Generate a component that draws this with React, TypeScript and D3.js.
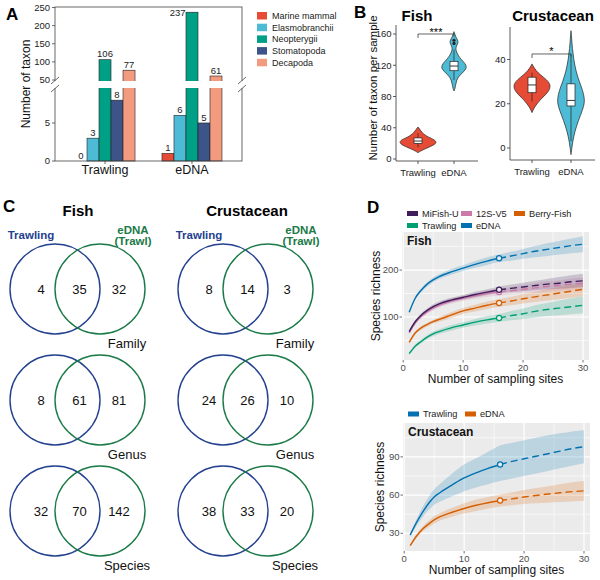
import * as d3 from "d3";

const FONT = "'Liberation Sans', Arial, Helvetica, sans-serif";

// ---------- Panel A data ----------
const groups = ["Trawling", "eDNA"];
const taxa = ["Marine mammal", "Elasmobranchii", "Neopterygii", "Stomatopoda", "Decapoda"];
const taxaColors = ["#E64B35", "#4DBBD5", "#00A087", "#3C5488", "#F39B7F"];
const trawlCounts = [0, 3, 106, 8, 77];
const ednaCounts = [1, 6, 237, 5, 61];
const upperTicks = [50, 100, 150, 200, 250];
const lowerTicks = [0, 5];

// ---------- Panel B data (violin outlines: [value, relative half width]) ----------
const fishTrawlViolin = [[8, 0], [10, 0.12], [13, 0.38], [16, 0.68], [19, 0.93], [22, 1], [25, 0.86], [28, 0.56], [31, 0.36], [34, 0.22], [37, 0.12], [40, 0.04], [41, 0]];
const fishEdnaViolin = [[87, 0], [90, 0.08], [95, 0.13], [100, 0.2], [105, 0.33], [110, 0.66], [115, 0.95], [118, 1], [122, 0.9], [127, 0.6], [132, 0.35], [137, 0.2], [141, 0.13], [145, 0.2], [149, 0.34], [152, 0.3], [156, 0.15], [160, 0.06], [163, 0]];
const crustTrawlViolin = [[16, 0], [18, 0.1], [20, 0.27], [22, 0.47], [24, 0.72], [26, 0.93], [28, 1], [30, 0.9], [32, 0.62], [34, 0.32], [36, 0.13], [38, 0]];
const crustEdnaViolin = [[-3, 0], [0, 0.06], [5, 0.18], [10, 0.4], [15, 0.7], [19, 0.95], [22, 1], [26, 0.86], [30, 0.6], [35, 0.35], [40, 0.2], [45, 0.1], [50, 0.04], [53, 0]];
// [lower whisker, q1, median, q3, upper whisker]
const fishTrawlBox = [15, 20, 23, 27, 33];
const fishEdnaBox = [101, 113, 119, 125, 140];
const fishEdnaOutliers = [148, 152];
const crustTrawlBox = [21, 25, 28.5, 32, 34];
const crustEdnaBox = [3, 19, 21.5, 29, 42];
const fishTicks = [0, 40, 80, 120, 160];
const crustTicks = [0, 20, 40];

// ---------- Panel C data ----------
const vennLevels = ["Family", "Genus", "Species"];
const fishVenn = [[4, 35, 32], [8, 61, 81], [32, 70, 142]];
const crustVenn = [[8, 14, 3], [24, 26, 10], [38, 33, 20]];

// ---------- Panel D data ----------
const siteX = [1, 2, 3, 4, 5, 6, 8, 10, 12, 14, 16, 18, 20, 22, 24, 26, 28, 30];
const observedSites = 16;
const fishEdnaMean = [110, 140, 157, 170, 179, 186, 196, 204, 212, 219, 225, 230, 235, 240, 244, 248, 252, 255];
const fishEdnaLo = [108, 137, 153, 165, 174, 181, 190, 198, 205, 211, 217, 220, 224, 227, 230, 233, 236, 238];
const fishEdnaHi = [112, 143, 161, 174, 184, 191, 202, 210, 219, 227, 233, 239, 245, 251, 257, 262, 267, 272];
const mifishMean = [69, 90, 104, 114, 122, 128, 136, 142, 148, 153, 158, 161, 164, 167, 170, 172, 175, 177];
const mifishLo = [67, 87, 100, 110, 117, 123, 131, 137, 142, 147, 151, 153, 155, 157, 159, 160, 162, 164];
const mifishHi = [71, 93, 108, 118, 127, 133, 141, 147, 154, 159, 165, 169, 173, 177, 181, 185, 189, 192];
const v5Mean = [66, 87, 101, 111, 119, 125, 134, 140, 145, 150, 153, 156, 159, 162, 165, 167, 170, 172];
const v5Lo = [64, 84, 97, 107, 114, 120, 128, 134, 139, 143, 146, 148, 150, 152, 154, 156, 158, 160];
const v5Hi = [68, 90, 105, 115, 124, 130, 140, 146, 151, 157, 160, 164, 168, 172, 176, 178, 182, 184];
const berryMean = [46, 66, 77, 84, 90, 95, 104, 113, 119, 125, 130, 134, 139, 143, 147, 151, 155, 159];
const berryLo = [44, 63, 73, 80, 86, 90, 98, 107, 112, 117, 122, 125, 129, 132, 135, 138, 141, 145];
const berryHi = [48, 69, 81, 88, 94, 100, 110, 119, 126, 133, 138, 143, 149, 154, 159, 164, 168, 173];
const fishTrawlMean = [22, 38, 48, 57, 64, 69, 77, 83, 89, 94, 98, 103, 107, 112, 116, 119, 122, 125];
const fishTrawlLo = [20, 35, 44, 53, 59, 64, 71, 77, 82, 86, 90, 93, 96, 99, 102, 104, 106, 108];
const fishTrawlHi = [24, 41, 52, 61, 69, 74, 83, 89, 96, 102, 106, 113, 118, 125, 130, 135, 140, 144];
const crustTrawlMean = [28.7, 38, 46, 53, 58.5, 62, 68, 73.5, 77.5, 81, 84, 86.5, 88.5, 90.5, 92.5, 94.5, 96.5, 98];
const crustTrawlLo = [27.5, 35.5, 42, 48, 52.5, 55, 59, 63, 66, 68.5, 71, 73, 75, 77, 79, 81, 83, 85];
const crustTrawlHi = [30, 40.5, 50, 58, 64.5, 69, 77, 84, 89, 94, 99, 101, 103, 105, 107, 108.5, 110, 111];
const crustEdnaMean = [20.3, 27.5, 33, 37, 40.5, 43, 46.5, 49.5, 52, 54, 55.7, 57, 58.5, 59.7, 60.8, 61.8, 62.7, 63.3];
const crustEdnaLo = [19.8, 26, 31, 34.5, 37.5, 40, 43, 45.5, 47.5, 49.5, 51, 52, 53, 53.5, 54, 54.5, 55, 55.5];
const crustEdnaHi = [20.8, 29, 35, 39.5, 43.5, 46, 50, 53.5, 56.5, 58.5, 60.5, 62, 64, 65.5, 67, 68.5, 70, 71];

const BLUE = "#24418F";
const GREEN = "#1B7A47";

function PanelA() {
  const x0 = d3.scaleBand<string>().domain(groups).range([55, 242]).paddingInner(0.31).paddingOuter(0.23);
  const x1 = d3.scaleBand<string>().domain(taxa).range([0, x0.bandwidth()]);
  const yLow = d3.scaleLinear().domain([0, 9.6]).range([161, 88]);
  const yHigh = d3.scaleLinear().domain([50, 250]).range([80, 7.5]);
  const yOf = (v: number) => (v <= 9.6 ? yLow(v) : yHigh(v));
  const counts: Record<string, number[]> = { Trawling: trawlCounts, eDNA: ednaCounts };

  return (
    <g>
      <text x={6} y={20} fontSize={17} fontWeight="bold">A</text>
      {groups.map((g) =>
        taxa.map((t, i) => {
          const v = counts[g][i];
          const bx = (x0(g) as number) + (x1(t) as number);
          const top = yOf(v);
          return v > 0 ? (
            <rect key={g + t} x={bx} y={top} width={x1.bandwidth()} height={161 - top}
              fill={taxaColors[i]} stroke="#222" strokeWidth={0.6} />
          ) : null;
        })
      )}
      <rect x={55} y={7} width={187} height={154} fill="none" stroke="#444" strokeWidth={0.8} />
      <rect x={48} y={81} width={202} height={7} fill="white" />
      {[0, 187].map((dx) => (
        <g key={dx} stroke="#444" strokeWidth={0.8}>
          <line x1={51 + dx} y1={84} x2={59 + dx} y2={77} />
          <line x1={51 + dx} y1={92} x2={59 + dx} y2={85} />
        </g>
      ))}
      {upperTicks.map((t) => (
        <g key={"u" + t}>
          <line x1={52} x2={55} y1={yHigh(t)} y2={yHigh(t)} stroke="#444" strokeWidth={0.8} />
          <text x={50} y={yHigh(t) + 3.3} fontSize={9.5} textAnchor="end" fill="#222">{t}</text>
        </g>
      ))}
      {lowerTicks.map((t) => (
        <g key={"l" + t}>
          <line x1={52} x2={55} y1={yLow(t)} y2={yLow(t)} stroke="#444" strokeWidth={0.8} />
          <text x={50} y={yLow(t) + 3.3} fontSize={9.5} textAnchor="end" fill="#222">{t}</text>
        </g>
      ))}
      {groups.map((g) =>
        taxa.map((t, i) => {
          const v = counts[g][i];
          const bx = (x0(g) as number) + (x1(t) as number);
          const top = yOf(v);
          if (top < 16) {
            return <text key={"v" + g + t} x={bx - 0.5} y={top + 4} fontSize={9.5} textAnchor="end" fill="#222">{v}</text>;
          }
          return (
            <text key={"v" + g + t} x={bx + x1.bandwidth() / 2} y={top - 2.3} fontSize={9.5} textAnchor="middle" fill="#222">{v}</text>
          );
        })
      )}
      {groups.map((g) => (
        <g key={"x" + g}>
          <line x1={(x0(g) as number) + x0.bandwidth() / 2} x2={(x0(g) as number) + x0.bandwidth() / 2} y1={161} y2={164} stroke="#444" strokeWidth={0.8} />
          <text x={(x0(g) as number) + x0.bandwidth() / 2} y={173.5} fontSize={12.5} textAnchor="middle" fill="#111">{g}</text>
        </g>
      ))}
      <text transform="translate(30,84) rotate(-90)" fontSize={12} textAnchor="middle" fill="#111">Number of taxon</text>
      {taxa.map((t, i) => (
        <g key={"lg" + t}>
          <rect x={257} y={12 + i * 11.7} width={10} height={7.5} fill={taxaColors[i]} />
          <text x={272} y={19 + i * 11.7} fontSize={9} fill="#222">{t}</text>
        </g>
      ))}
    </g>
  );
}

type ViolinSpec = { cx: number; shape: number[][]; maxHalf: number; fill: string; box: number[]; outliers?: number[] };

function ViolinPlot({ axisX, axisY, axisTop, axisRight, y, ticks, violins, labels, bracketY, stars, title, titleX }: any) {
  const area = d3.area<number[]>()
    .curve(d3.curveBasis);
  return (
    <g>
      <text x={titleX} y={21} fontSize={15} fontWeight="bold" textAnchor="middle">{title}</text>
      {violins.map((v: ViolinSpec, i: number) => {
        area.y((d) => y(d[0])).x0((d) => v.cx - d[1] * v.maxHalf).x1((d) => v.cx + d[1] * v.maxHalf);
        const [lw, q1, md, q3, hw] = v.box;
        return (
          <g key={i}>
            <path d={area(v.shape) as string} fill={v.fill} stroke="#222" strokeWidth={0.7} />
            <line x1={v.cx} x2={v.cx} y1={y(lw)} y2={y(hw)} stroke="#222" strokeWidth={0.7} />
            <rect x={v.cx - 4} width={8} y={y(q3)} height={y(q1) - y(q3)} fill="white" stroke="#222" strokeWidth={0.7} />
            <line x1={v.cx - 4} x2={v.cx + 4} y1={y(md)} y2={y(md)} stroke="#222" strokeWidth={0.9} />
            {(v.outliers || []).map((o) => (
              <circle key={o} cx={v.cx} cy={y(o)} r={1.6} fill="#222" />
            ))}
          </g>
        );
      })}
      <path d={`M${violins[0].cx},${y(bracketY) + 4}V${y(bracketY)}H${violins[1].cx}V${y(bracketY) + 2.5}`} fill="none" stroke="#222" strokeWidth={0.7} />
      <text x={(violins[0].cx + violins[1].cx) / 2} y={y(bracketY) + 1.5} fontSize={11} textAnchor="middle">{stars}</text>
      <line x1={axisX} x2={axisX} y1={axisTop} y2={axisY} stroke="#333" strokeWidth={0.8} />
      <line x1={axisX} x2={axisRight} y1={axisY} y2={axisY} stroke="#333" strokeWidth={0.8} />
      {ticks.map((t: number) => (
        <g key={t}>
          <line x1={axisX - 3} x2={axisX} y1={y(t)} y2={y(t)} stroke="#333" strokeWidth={0.8} />
          <text x={axisX - 4.5} y={y(t) + 3.3} fontSize={9.5} textAnchor="end" fill="#222">{t}</text>
        </g>
      ))}
      {violins.map((v: ViolinSpec, i: number) => (
        <g key={"xl" + i}>
          <line x1={v.cx} x2={v.cx} y1={axisY} y2={axisY + 3} stroke="#333" strokeWidth={0.8} />
          <text x={v.cx} y={axisY + 15} fontSize={9.5} textAnchor="middle" fill="#222">{labels[i]}</text>
        </g>
      ))}
    </g>
  );
}

function PanelB() {
  const yFish = d3.scaleLinear().domain([0, 160]).range([159, 34]);
  const yCrust = d3.scaleLinear().domain([0, 40]).range([148, 59.5]);
  return (
    <g>
      <text x={354} y={18} fontSize={17} fontWeight="bold">B</text>
      <text transform="translate(377,88) rotate(-90)" fontSize={11.5} textAnchor="middle" fill="#111">Number of taxon per sample</text>
      <ViolinPlot axisX={396} axisY={161} axisTop={25} axisRight={478} y={yFish} ticks={fishTicks}
        title="Fish" titleX={417} labels={groups} bracketY={160} stars="***"
        violins={[
          { cx: 418, shape: fishTrawlViolin, maxHalf: 18.5, fill: "#E64B35", box: fishTrawlBox },
          { cx: 454, shape: fishEdnaViolin, maxHalf: 12.5, fill: "#4DBBD5", box: fishEdnaBox, outliers: fishEdnaOutliers },
        ]} />
      <ViolinPlot axisX={510} axisY={160} axisTop={27} axisRight={595} y={yCrust} ticks={crustTicks}
        title="Crustacean" titleX={553} labels={groups} bracketY={42.5} stars="*"
        violins={[
          { cx: 532, shape: crustTrawlViolin, maxHalf: 18.5, fill: "#E64B35", box: crustTrawlBox },
          { cx: 571, shape: crustEdnaViolin, maxHalf: 13.7, fill: "#4DBBD5", box: crustEdnaBox },
        ]} />
    </g>
  );
}

function VennColumn({ title, titleX, blueX, rows }: { title: string; titleX: number; blueX: number; rows: number[][] }) {
  const greenX = blueX + 45;
  const rowY = d3.scalePoint<string>().domain(vennLevels).range([289, 511]);
  return (
    <g>
      <text x={titleX} y={216} fontSize={15} fontWeight="bold" textAnchor="middle">{title}</text>
      <text x={blueX - 24} y={239} fontSize={11.5} fontWeight="bold" fill={BLUE} textAnchor="middle">Trawling</text>
      <text x={greenX + 33} y={234} fontSize={11.5} fontWeight="bold" fill={GREEN} textAnchor="middle">eDNA</text>
      <text x={greenX + 33} y={245} fontSize={11.5} fontWeight="bold" fill={GREEN} textAnchor="middle">(Trawl)</text>
      {vennLevels.map((lvl, i) => {
        const cy = rowY(lvl) as number;
        const [a, b, c] = rows[i];
        return (
          <g key={lvl}>
            <circle cx={blueX} cy={cy} r={45} fill="none" stroke={BLUE} strokeWidth={1.4} />
            <circle cx={greenX} cy={cy} r={45} fill="none" stroke={GREEN} strokeWidth={1.4} />
            <text x={blueX - 14} y={cy + 4.7} fontSize={13} textAnchor="middle" fill="#111">{a}</text>
            <text x={(blueX + greenX) / 2 + 2} y={cy + 4.7} fontSize={13} textAnchor="middle" fill="#111">{b}</text>
            <text x={greenX + 19} y={cy + 4.7} fontSize={13} textAnchor="middle" fill="#111">{c}</text>
            <text x={greenX + 27} y={cy + 58.5} fontSize={13} textAnchor="middle" fill="#111">{lvl}</text>
          </g>
        );
      })}
    </g>
  );
}

function PanelC() {
  return (
    <g>
      <text x={3} y={212} fontSize={17} fontWeight="bold">C</text>
      <VennColumn title="Fish" titleX={78} blueX={55} rows={fishVenn} />
      <VennColumn title="Crustacean" titleX={247} blueX={223} rows={crustVenn} />
    </g>
  );
}

type Series = { name: string; color: string; mean: number[]; lo: number[]; hi: number[] };

function Richness({ x0, x1, y0, y1, yDomain, yMajor, yMinor, series, label, yTitleX }: any) {
  const x = d3.scaleLinear().domain([-0.2, 31]).range([x0, x1]);
  const y = d3.scaleLinear().domain(yDomain).range([y1, y0]);
  const xMajor = [0, 10, 20, 30];
  const xMinor = [5, 15, 25];
  const pts = (s: Series) => siteX.map((sx, i) => ({ sx, m: s.mean[i], lo: s.lo[i], hi: s.hi[i] }));
  const band = d3.area<any>().x((d) => x(d.sx)).y0((d) => y(d.lo)).y1((d) => y(d.hi)).curve(d3.curveMonotoneX);
  const line = d3.line<any>().x((d) => x(d.sx)).y((d) => y(d.m)).curve(d3.curveMonotoneX);
  return (
    <g>
      <rect x={x0} y={y0} width={x1 - x0} height={y1 - y0} fill="#EBEBEB" />
      {yMinor.map((t: number) => <line key={"ym" + t} x1={x0} x2={x1} y1={y(t)} y2={y(t)} stroke="white" strokeWidth={0.6} />)}
      {xMinor.map((t) => <line key={"xm" + t} y1={y0} y2={y1} x1={x(t)} x2={x(t)} stroke="white" strokeWidth={0.6} />)}
      {yMajor.map((t: number) => <line key={"yM" + t} x1={x0} x2={x1} y1={y(t)} y2={y(t)} stroke="white" strokeWidth={1.2} />)}
      {xMajor.map((t) => <line key={"xM" + t} y1={y0} y2={y1} x1={x(t)} x2={x(t)} stroke="white" strokeWidth={1.2} />)}
      {series.map((s: Series) => (
        <path key={"b" + s.name} d={band(pts(s)) as string} fill={s.color} opacity={0.2} />
      ))}
      {series.map((s: Series) => {
        const p = pts(s);
        const obs = p.filter((d) => d.sx <= observedSites);
        const ext = p.filter((d) => d.sx >= observedSites);
        const mk = p.find((d) => d.sx === observedSites)!;
        return (
          <g key={"l" + s.name}>
            <path d={line(obs) as string} fill="none" stroke={s.color} strokeWidth={1.4} />
            <path d={line(ext) as string} fill="none" stroke={s.color} strokeWidth={1.4} strokeDasharray="7,4" />
            <circle cx={x(mk.sx)} cy={y(mk.m)} r={2.6} fill="#EBEBEB" stroke={s.color} strokeWidth={1.2} />
          </g>
        );
      })}
      <text x={x0 + 5} y={y0 + 13} fontSize={12} fontWeight="bold" fill="#111">{label}</text>
      {yMajor.map((t: number) => (
        <g key={"yt" + t}>
          <line x1={x0 - 2.5} x2={x0} y1={y(t)} y2={y(t)} stroke="#333" strokeWidth={0.7} />
          <text x={x0 - 3.5} y={y(t) + 3.2} fontSize={9.5} textAnchor="end" fill="#4D4D4D">{t}</text>
        </g>
      ))}
      {xMajor.map((t) => (
        <g key={"xt" + t}>
          <line x1={x(t)} x2={x(t)} y1={y1} y2={y1 + 2.5} stroke="#333" strokeWidth={0.7} />
          <text x={x(t)} y={y1 + 11} fontSize={9.5} textAnchor="middle" fill="#4D4D4D">{t}</text>
        </g>
      ))}
      <text x={(x0 + x1) / 2} y={y1 + 23} fontSize={12} textAnchor="middle" fill="#111">Number of sampling sites</text>
      <text transform={`translate(${yTitleX},${(y0 + y1) / 2}) rotate(-90)`} fontSize={12} textAnchor="middle" fill="#111">Species richness</text>
    </g>
  );
}

function Legend({ items, x, y, colW, perRow }: { items: Series[]; x: number; y: number; colW: number[]; perRow: number }) {
  return (
    <g>
      {items.map((s, i) => {
        const r = Math.floor(i / perRow);
        const c = i % perRow;
        const lx = x + colW[c];
        const ly = y + r * 12;
        return (
          <g key={s.name}>
            <rect x={lx} y={ly - 2.5} width={11} height={5} fill={s.color} />
            <text x={lx + 15} y={ly + 3.3} fontSize={9.2} fill="#222">{s.name}</text>
          </g>
        );
      })}
    </g>
  );
}

function PanelD() {
  const fishSeries: Series[] = [
    { name: "Trawling", color: "#009E73", mean: fishTrawlMean, lo: fishTrawlLo, hi: fishTrawlHi },
    { name: "Berry-Fish", color: "#D55E00", mean: berryMean, lo: berryLo, hi: berryHi },
    { name: "12S-V5", color: "#CC79A7", mean: v5Mean, lo: v5Lo, hi: v5Hi },
    { name: "MiFish-U", color: "#3F1D5C", mean: mifishMean, lo: mifishLo, hi: mifishHi },
    { name: "eDNA", color: "#0072B2", mean: fishEdnaMean, lo: fishEdnaLo, hi: fishEdnaHi },
  ];
  const crustSeries: Series[] = [
    { name: "Trawling", color: "#0072B2", mean: crustTrawlMean, lo: crustTrawlLo, hi: crustTrawlHi },
    { name: "eDNA", color: "#D55E00", mean: crustEdnaMean, lo: crustEdnaLo, hi: crustEdnaHi },
  ];
  const legendOrder = [fishSeries[3], fishSeries[2], fishSeries[1], fishSeries[0], fishSeries[4]];
  return (
    <g>
      <text x={367} y={213} fontSize={17} fontWeight="bold">D</text>
      <Legend items={legendOrder} x={407} y={213.5} colW={[0, 54, 107]} perRow={3} />
      <Richness x0={402} x1={589} y0={232} y1={360} yDomain={[8.5, 281]} yMajor={[100, 200]} yMinor={[50, 150, 250]}
        series={fishSeries} label="Fish" yTitleX={380} />
      <Legend items={crustSeries} x={408} y={414} colW={[0, 57]} perRow={2} />
      <Richness x0={403} x1={590} y0={423} y1={551} yDomain={[16.1, 116.6]} yMajor={[30, 60, 90]} yMinor={[45, 75, 105]}
        series={crustSeries} label="Crustacean" yTitleX={384} />
    </g>
  );
}

export default function App() {
  return (
    <svg width={600} height={580} style={{ position: "absolute", left: 0, top: 0, background: "white" }} fontFamily={FONT}>
      <PanelA />
      <PanelB />
      <PanelC />
      <PanelD />
    </svg>
  );
}
